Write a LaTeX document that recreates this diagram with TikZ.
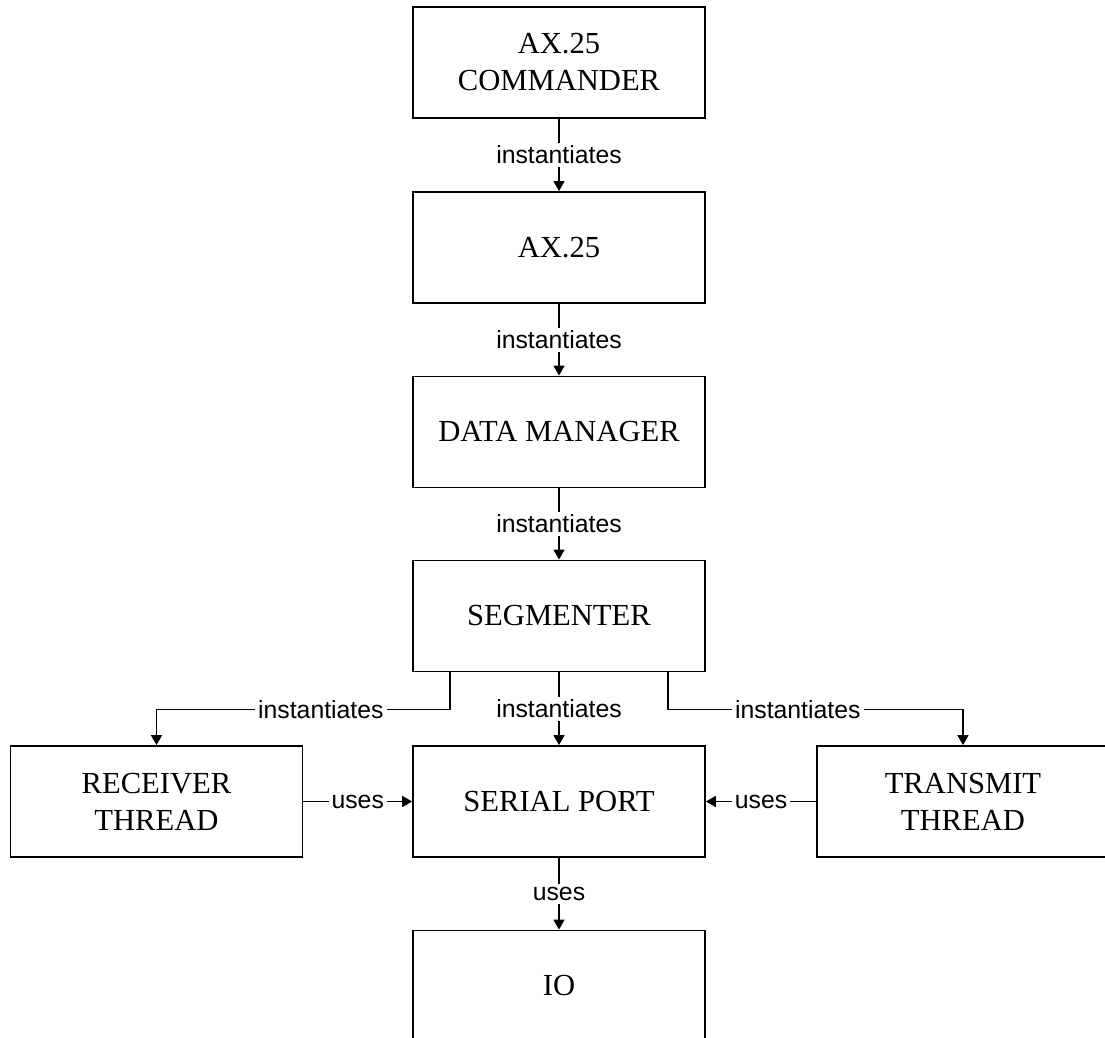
\documentclass[tikz,border=0pt]{standalone}
\usepackage{fontspec}
\setmainfont{Liberation Serif}
\newfontfamily\labelfont{Liberation Sans}
\usetikzlibrary{arrows.meta,calc}
\tikzset{
  block/.style={draw, line width=0.9pt, minimum width=146pt, minimum height=55.5pt,
    align=center, inner sep=2pt, font=\fontsize{15.3}{18.5}\selectfont},
  lbl/.style={fill=white, inner sep=1.5pt, font=\labelfont\fontsize{12.4}{14}\selectfont},
  link/.style={line width=0.8pt, -{Triangle[length=5pt,width=5.5pt]}},
}
\begin{document}
\begin{tikzpicture}[x=0.5pt, y=-0.5pt]
  \useasboundingbox (0,0) rectangle (1105,1038);
  \clip (0,0) rectangle (1105,1038);
  % main column
  \node[block] (cmd) at (559,62.5) {AX.25\\COMMANDER};
  \node[block] (ax)  at (559,247.5) {AX.25};
  \node[block] (dm)  at (559,432) {DATA MANAGER};
  \node[block] (seg) at (559,616) {SEGMENTER};
  \node[block] (sp)  at (559,801.5) {SERIAL PORT};
  \node[block] (io)  at (559,986) {IO};
  % side threads
  \node[block] (rcv) at (156.5,801.5) {RECEIVER\\THREAD};
  \node[block] (tx)  at (963,801.5) {TRANSMIT\\THREAD};
  % instantiation chain
  \draw[link] (cmd) -- node[lbl]{instantiates} (ax);
  \draw[link] (ax)  -- node[lbl]{instantiates} (dm);
  \draw[link] (dm)  -- node[lbl]{instantiates} (seg);
  \draw[link] (seg) -- node[lbl]{instantiates} (sp);
  \draw[link] ([xshift=-54.5pt]seg.south) -- ++(0,37) -| node[lbl,pos=0.22]{instantiates} (rcv.north);
  \draw[link] ([xshift=54.5pt]seg.south) -- ++(0,37) -| node[lbl,pos=0.22]{instantiates} (tx.north);
  % usage
  \draw[link] (rcv) -- node[lbl]{uses} (sp);
  \draw[link] (tx)  -- node[lbl]{uses} (sp);
  \draw[link] (sp)  -- node[lbl]{uses} (io);
\end{tikzpicture}
\end{document}
